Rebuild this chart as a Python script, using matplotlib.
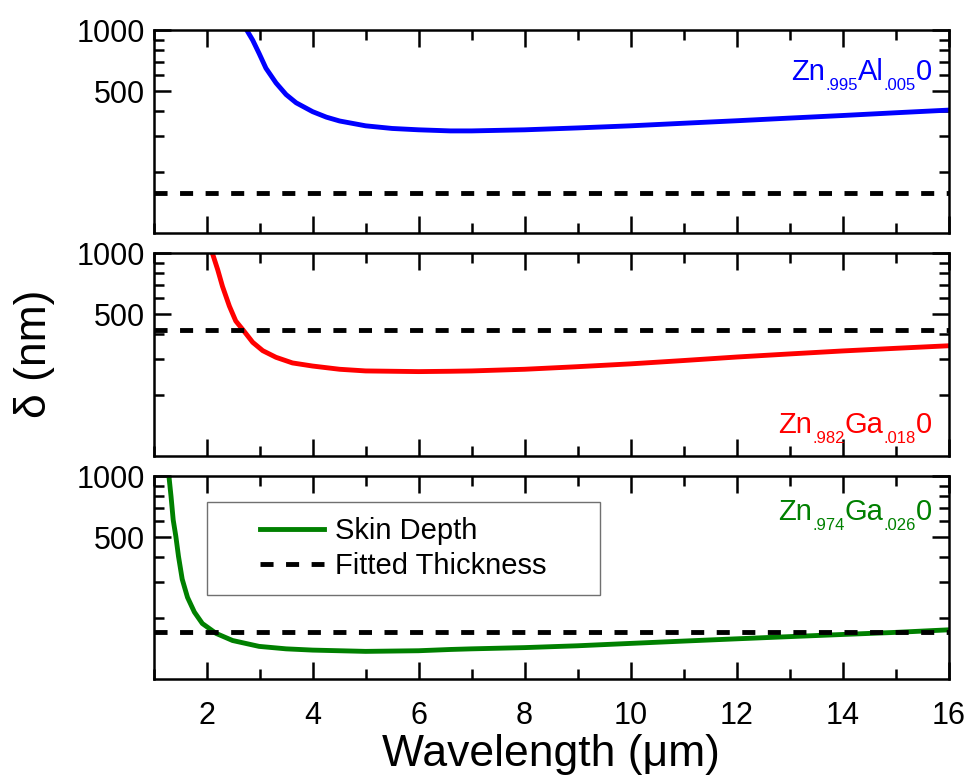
import matplotlib
matplotlib.use("Agg")
import matplotlib.pyplot as plt
from matplotlib.ticker import MultipleLocator, FixedLocator, FuncFormatter, NullFormatter
from matplotlib.patches import Rectangle
from matplotlib.transforms import offset_copy

plt.rcParams['font.family'] = ['Liberation Sans', 'DejaVu Sans']

# skin depth (nm) vs wavelength (um)
wl_al = [2.76, 2.87, 2.99, 3.12, 3.31, 3.50, 3.69, 4.0, 4.26, 4.51, 5.0, 5.5, 6.0, 6.6,
         7.0, 8.0, 9.0, 10.0, 11.0, 12.0, 13.0, 14.0, 15.0, 16.0]
d_al = [1000, 894, 770, 650, 550, 482, 439, 397, 373, 357, 338, 328, 323, 319,
        319, 323, 330, 338, 348, 358, 369, 380, 392, 404]
t_al = 158

wl_ga18 = [2.11, 2.21, 2.30, 2.43, 2.55, 2.70, 2.87, 3.06, 3.31, 3.62, 4.0, 4.51, 5.0, 6.0, 6.6,
           7.0, 8.0, 9.0, 10.0, 11.0, 12.0, 13.0, 14.0, 15.0, 16.0]
d_ga18 = [1000, 830, 687, 549, 464, 415, 364, 331, 307, 288, 278, 268, 263, 261, 262,
          263, 268, 276, 285, 296, 308, 319, 330, 340, 350]
t_ga18 = 420

wl_ga26 = [1.29, 1.33, 1.37, 1.42, 1.47, 1.54, 1.64, 1.77, 1.92, 2.18, 2.49, 2.99, 3.5, 4.0,
           5.0, 6.0, 6.6, 7.0, 8.0, 9.0, 10.0, 11.0, 12.0, 13.0, 14.0, 15.0, 16.0]
d_ga26 = [1000, 793, 610, 506, 403, 311, 253, 214, 188, 168, 155, 145, 141, 139,
          137, 138, 140, 141, 143, 146, 150, 154, 158, 162, 166, 170, 175]
t_ga26 = 171

# label pieces: (text, is_subscript)
name_al = [('Zn', False), ('.995', True), ('Al', False), ('.005', True), ('0', False)]
name_ga18 = [('Zn', False), ('.982', True), ('Ga', False), ('.018', True), ('0', False)]
name_ga26 = [('Zn', False), ('.974', True), ('Ga', False), ('.026', True), ('0', False)]

samples = [
    (wl_al, d_al, t_al, 'blue', name_al, 0.756),
    (wl_ga18, d_ga18, t_ga18, 'red', name_ga18, 0.115),
    (wl_ga26, d_ga26, t_ga26, '#008000', name_ga26, 0.783),
]

fig = plt.figure(figsize=(9.72, 7.77), dpi=100)
axes = fig.subplots(3, 1, sharex=True)
fig.subplots_adjust(left=0.158, right=0.976, top=0.961, bottom=0.126, hspace=0.1)
renderer = fig.canvas.get_renderer()

LW = 3.5
dash = (0, (9.4 / LW, 9.0 / LW))


def chem_label(ax, pieces, x, y, color):
    # right aligned formula with small, lowered subscripts
    sizes = [(12 if sub else 21) for _, sub in pieces]
    widths = []
    for (s, sub), fs in zip(pieces, sizes):
        t = ax.text(0, 0, s, fontsize=fs)
        widths.append(t.get_window_extent(renderer).width)
        t.remove()
    off = 0.0
    for (s, sub), fs, w in reversed(list(zip(pieces, sizes, widths))):
        tr = offset_copy(ax.transAxes, fig, x=-off, y=(-10 if sub else 0), units='dots')
        ax.text(x, y, s, fontsize=fs, color=color, ha='right', va='baseline', transform=tr)
        off += w


for ax, (wl, d, t, col, name, ty) in zip(axes, samples):
    skin, = ax.plot(wl, d, color=col, lw=LW, label='Skin Depth')
    fit = ax.axhline(t, color='black', lw=LW, linestyle=dash, label='Fitted Thickness')
    ax.set_yscale('log')
    ax.set_ylim(100, 1000)
    ax.set_xlim(1, 16)
    ax.xaxis.set_major_locator(MultipleLocator(2))
    ax.xaxis.set_minor_locator(MultipleLocator(1))
    ax.yaxis.set_major_locator(FixedLocator([500, 1000]))
    ax.yaxis.set_minor_locator(FixedLocator([200, 300, 400, 600, 700, 800, 900]))
    ax.yaxis.set_major_formatter(FuncFormatter(lambda v, p: f'{v:g}'))
    ax.yaxis.set_minor_formatter(NullFormatter())
    ax.tick_params(which='both', direction='in', top=True, right=True, width=1.8)
    ax.tick_params(which='major', length=12)
    ax.tick_params(which='minor', length=7)
    ax.tick_params(axis='y', labelsize=22, pad=6)
    ax.tick_params(axis='x', labelsize=22, pad=16)
    for sp in ax.spines.values():
        sp.set_linewidth(1.8)
    chem_label(ax, name, 0.979, ty, col)

ax = axes[2]
ax.add_patch(Rectangle((0.067, 0.414), 0.495, 0.458, transform=ax.transAxes,
                       fill=False, edgecolor='#707070', lw=1.0, zorder=4))
ax.legend(handles=[skin, fit], loc='center', bbox_to_anchor=(0.314, 0.643),
          frameon=False, fontsize=21, handlelength=2.2, handletextpad=0.35,
          labelspacing=0.25)

ax.set_xlabel('Wavelength (\u03bcm)', fontsize=32, labelpad=2)
fig.text(0.036, 0.544, '\u03b4 (nm)', fontsize=32, rotation=90, ha='center', va='center')

fig.savefig('out.png', dpi=100)
